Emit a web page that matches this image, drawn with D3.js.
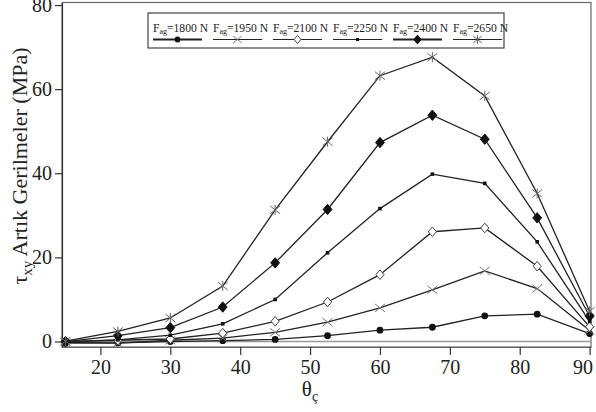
<!DOCTYPE html>
<html>
<head>
<meta charset="utf-8">
<script src="https://cdn.jsdelivr.net/npm/d3@7"></script>
<style>
  html, body { margin: 0; padding: 0; background: #fff; }
  svg { display: block; }
</style>
</head>
<body>
<svg id="chart" width="596" height="412"></svg>
<script>
// Shear residual stress τxy versus angle θç for several applied loads
const theta = [15, 22.5, 30, 37.5, 45, 52.5, 60, 67.5, 75, 82.5, 90];
const loads = ["1800", "1950", "2100", "2250", "2400", "2650"];
const f1800 = [-0.4, -0.3, 0.0, 0.2, 0.5, 1.4, 2.7, 3.4, 6.1, 6.5, 1.9];
const f1950 = [-0.2, -0.4, 0.3, 0.8, 2.2, 4.6, 8.0, 12.3, 16.8, 12.6, 2.6];
const f2100 = [0.0, 0.3, 0.6, 2.0, 4.8, 9.4, 15.9, 26.1, 27.0, 17.9, 3.5];
const f2250 = [0.0, 0.4, 1.5, 4.2, 10.0, 21.1, 31.6, 39.8, 37.6, 23.7, 4.8];
const f2400 = [0.0, 1.4, 3.3, 8.2, 18.7, 31.4, 47.3, 53.8, 48.1, 29.4, 6.0];
const f2650 = [0.1, 2.4, 5.6, 13.2, 31.3, 47.5, 63.2, 67.6, 58.4, 35.2, 7.2];
const xTicks = [20, 30, 40, 50, 60, 70, 80, 90];
const yTicks = [0, 20, 40, 60, 80];

const seriesValues = [f1800, f1950, f2100, f2250, f2400, f2650];
const markerKinds = ["circle", "cross", "openDiamond", "dot", "diamond", "asterisk"];

const SERIF = "'Liberation Serif', Tinos, 'DejaVu Serif', serif";
const svg = d3.select("#chart");
const plotL = 62, plotR = 591, plotT = 2.5, plotB = 347;

const x = d3.scaleLinear().domain([14.5, 90.2]).range([plotL, plotR]);
const y = d3.scaleLinear().domain([-1.3, 80.6]).range([plotB, plotT]);

// Plot frame
svg.append("rect")
  .attr("x", plotL).attr("y", plotT)
  .attr("width", plotR - plotL).attr("height", plotB - plotT)
  .attr("fill", "none").attr("stroke", "#666").attr("stroke-width", 1.2);

// Zero reference line
svg.append("line")
  .attr("x1", plotL).attr("x2", plotR)
  .attr("y1", y(0)).attr("y2", y(0))
  .attr("stroke", "#999").attr("stroke-width", 1.4);

// Axes
const xAxis = svg.append("g")
  .attr("transform", `translate(0,${plotB})`)
  .call(d3.axisBottom(x).tickValues(xTicks).tickSize(8).tickSizeOuter(0).tickPadding(5));
const yAxis = svg.append("g")
  .attr("transform", `translate(${plotL},0)`)
  .call(d3.axisLeft(y).tickValues(yTicks).tickSize(7).tickSizeOuter(0).tickPadding(3));

[xAxis, yAxis].forEach(g => {
  g.attr("font-family", null).attr("font-size", null);
  g.select(".domain").attr("stroke", "#333").attr("stroke-width", 1.2);
  g.selectAll(".tick line").attr("stroke", "#333").attr("stroke-width", 1.2);
  g.selectAll(".tick text")
    .style("font-family", SERIF)
    .style("font-size", "20px").attr("fill", "#222");
});
xAxis.select(".domain").attr("stroke", "#666");
// keep the last tick label inside the canvas
xAxis.selectAll(".tick text").filter(d => d === 90)
  .attr("text-anchor", "end").attr("dx", "0.15em");

// Marker drawing
function drawMarker(g, kind, cx, cy, scale = 1) {
  const s = scale;
  if (kind === "circle") {
    g.append("circle").attr("cx", cx).attr("cy", cy).attr("r", 3.4 * s).attr("fill", "#111");
  } else if (kind === "dot") {
    g.append("rect").attr("x", cx - 1.8 * s).attr("y", cy - 1.8 * s)
      .attr("width", 3.6 * s).attr("height", 3.6 * s).attr("fill", "#111");
  } else if (kind === "diamond" || kind === "openDiamond") {
    const r = (kind === "diamond" ? 5.2 : 4.8) * s;
    g.append("path")
      .attr("d", `M${cx},${cy - r}L${cx + r * 0.85},${cy}L${cx},${cy + r}L${cx - r * 0.85},${cy}Z`)
      .attr("fill", kind === "diamond" ? "#111" : "#fff")
      .attr("stroke", kind === "diamond" ? "#111" : "#444")
      .attr("stroke-width", 1);
  } else if (kind === "cross") {
    const r = 5 * s;
    g.append("path")
      .attr("d", `M${cx - r},${cy - r * 0.8}L${cx + r},${cy + r * 0.8}M${cx - r},${cy + r * 0.8}L${cx + r},${cy - r * 0.8}`)
      .attr("stroke", "#777").attr("stroke-width", 1).attr("fill", "none");
  } else if (kind === "asterisk") {
    const r = 5 * s;
    g.append("path")
      .attr("d", `M${cx - r},${cy - r * 0.8}L${cx + r},${cy + r * 0.8}M${cx - r},${cy + r * 0.8}L${cx + r},${cy - r * 0.8}M${cx},${cy - r}L${cx},${cy + r}`)
      .attr("stroke", "#666").attr("stroke-width", 1).attr("fill", "none");
  }
}

// Series lines and markers
const line = d3.line().x((d, i) => x(theta[i])).y(d => y(d));
seriesValues.forEach((vals, si) => {
  const g = svg.append("g");
  g.append("path").datum(vals).attr("d", line)
    .attr("fill", "none").attr("stroke", "#222").attr("stroke-width", 1.3);
  vals.forEach((v, i) => drawMarker(g, markerKinds[si], x(theta[i]), y(v)));
});

// Legend
const lg = svg.append("g");
lg.append("rect").attr("x", 148).attr("y", 13).attr("width", 356).attr("height", 35)
  .attr("fill", "#fff").attr("stroke", "#444").attr("stroke-width", 1.2);
loads.forEach((ld, i) => {
  const x0 = 153 + i * 60;
  const t = lg.append("text").attr("x", x0).attr("y", 31.5)
    .style("font-family", SERIF).style("font-size", "11.6px").attr("fill", "#222");
  t.append("tspan").text("F");
  t.append("tspan").text("ag").style("font-size", "8px").attr("dy", 2.3);
  t.append("tspan").text(`=${ld} N`).attr("dy", -2.3);
  lg.append("line").attr("x1", x0).attr("x2", x0 + 49).attr("y1", 39.5).attr("y2", 39.5)
    .attr("stroke", "#222").attr("stroke-width", i === 0 || i === 4 ? 2 : 1.2);
  drawMarker(lg, markerKinds[i], x0 + 24.5, 39.5, 0.85);
});

// Axis titles
const yt = svg.append("text")
  .attr("transform", "translate(27,166) rotate(-90)")
  .attr("text-anchor", "middle").attr("fill", "#222")
  .style("font-family", SERIF).style("font-size", "22px");
yt.append("tspan").text("τ");
yt.append("tspan").text("xy").style("font-size", "15px").attr("dy", 5);
yt.append("tspan").text(" Artık Gerilmeler (MPa)").attr("dy", -5);

const xt = svg.append("text")
  .attr("x", 310).attr("y", 396).attr("text-anchor", "middle").attr("fill", "#222")
  .style("font-family", SERIF).style("font-size", "21px");
xt.append("tspan").text("θ");
xt.append("tspan").text("ç").style("font-size", "14px").attr("dy", 5);
</script>
</body>
</html>
